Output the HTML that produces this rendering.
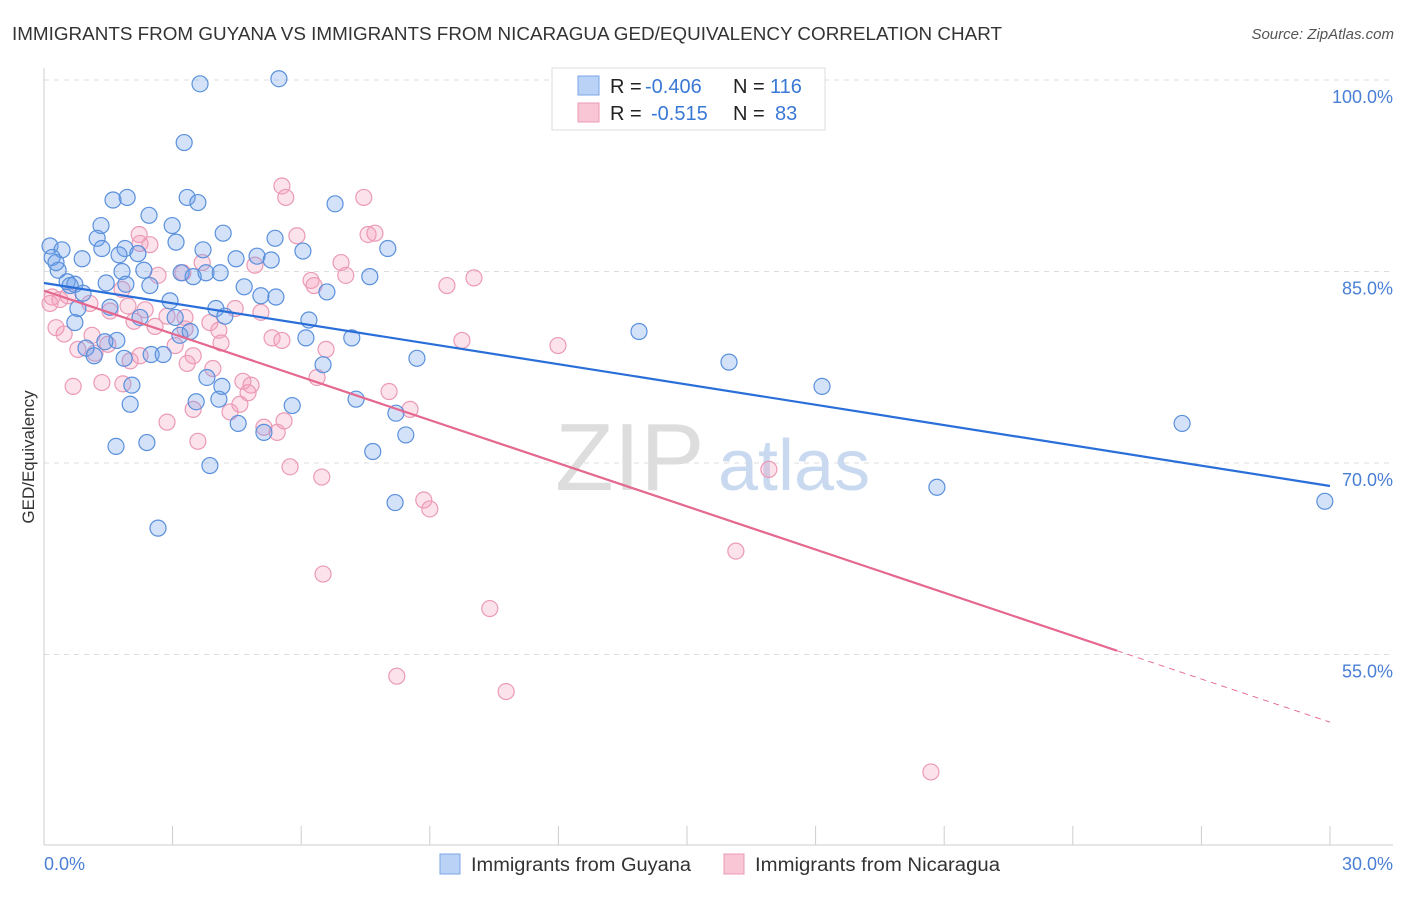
<!DOCTYPE html>
<html><head><meta charset="utf-8"><style>
body{margin:0;background:#fff;font-family:"Liberation Sans",sans-serif;}
svg text{font-family:"Liberation Sans",sans-serif;}
</style></head><body>
<svg id="chart" width="1406" height="892" viewBox="0 0 1406 892">
<text x="12" y="40" font-size="18" fill="#333" textLength="990" lengthAdjust="spacingAndGlyphs">IMMIGRANTS FROM GUYANA VS IMMIGRANTS FROM NICARAGUA GED/EQUIVALENCY CORRELATION CHART</text>
<text x="1394" y="39" font-size="15" fill="#555" font-style="italic" text-anchor="end">Source: ZipAtlas.com</text>
<g id="grid"></g>
<g><text x="555" y="490" font-size="96" font-family="Liberation Serif" fill="#ddd">ZIP</text><text x="718" y="490" font-size="72" fill="#c9daf0">atlas</text></g>
<line x1="44" y1="68" x2="44" y2="845" stroke="#ccc"/>
<line x1="44" y1="845" x2="1393" y2="845" stroke="#ccc"/>
<g id="xticks"></g>
<g id="ylabels"></g>
<text x="44" y="870" font-size="18" fill="#4a7fd6">0.0%</text>
<text x="1393" y="870" font-size="18" fill="#4a7fd6" text-anchor="end">30.0%</text>
<text transform="translate(34,457) rotate(-90)" font-size="17" fill="#333" text-anchor="middle">GED/Equivalency</text>
<g id="pts-pink"></g>
<g id="pts-blue"></g>
<g id="trends"></g>
<g>
<rect x="552" y="68" width="273" height="62" fill="#fff" stroke="#ddd"/>
<rect x="578" y="76" width="21" height="19" fill="#b9d2f5" stroke="#7aa6e6"/>
<rect x="578" y="103" width="21" height="19" fill="#f9c6d5" stroke="#eb9ab5"/>
<text x="610" y="93" font-size="20" fill="#222">R = <tspan fill="#3a78d6" x="645">-0.406</tspan></text>
<text x="733" y="93" font-size="20" fill="#222">N = <tspan fill="#3a78d6" x="770">116</tspan></text>
<text x="610" y="120" font-size="20" fill="#222">R = <tspan fill="#3a78d6" x="651">-0.515</tspan></text>
<text x="733" y="120" font-size="20" fill="#222">N = <tspan fill="#3a78d6" x="775">83</tspan></text>
</g>
<g>
<rect x="440" y="854" width="20" height="20" fill="#b9d2f5" stroke="#7aa6e6"/>
<text x="471" y="871" font-size="19" fill="#333" textLength="220" lengthAdjust="spacingAndGlyphs">Immigrants from Guyana</text>
<rect x="724" y="854" width="20" height="20" fill="#f9c6d5" stroke="#eb9ab5"/>
<text x="755" y="871" font-size="19" fill="#333" textLength="245" lengthAdjust="spacingAndGlyphs">Immigrants from Nicaragua</text>
</g>
</svg>
<script>
const yTicks=[100,85,70,55];
const yTickLabels=["100.0%","85.0%","70.0%","55.0%"];
const xTickVals=[0,3,6,9,12,15,18,21,24,27,30];
const blueX=[3.64,5.48,3.27,1.61,1.94,3.34,3.59,2.45,6.79,1.33,2.99,1.24,1.89,3.08,4.18,5.39,8.02,0.14,0.42,0.19,1.35,1.75,2.19,3.71,4.48,4.97,5.30,6.04,0.89,0.33,1.82,2.33,3.20,3.48,3.78,4.11,7.60,0.54,0.72,1.45,1.91,2.47,4.67,5.06,5.41,6.60,2.94,4.01,4.22,0.79,1.54,0.72,2.24,3.06,6.18,3.17,3.41,6.11,7.18,1.70,1.42,0.98,1.17,1.87,2.50,2.78,8.70,6.51,2.05,3.80,4.15,3.55,4.08,2.01,5.79,7.28,8.21,4.53,5.13,8.44,1.68,2.40,3.87,7.67,8.19,2.66,13.88,15.98,18.15,26.55,20.83,29.88,0.28,0.61,0.91];
const blueY=[99.7,100.1,95.1,90.6,90.8,90.8,90.4,89.4,90.3,88.6,88.6,87.6,86.8,87.3,88.0,87.6,86.8,87.0,86.7,86.1,86.8,86.3,86.4,86.7,86.0,86.2,85.9,86.6,86.0,85.1,85.0,85.1,84.9,84.6,84.9,84.9,84.6,84.2,84.0,84.1,84.0,83.9,83.8,83.1,83.0,83.4,82.7,82.1,81.5,82.1,82.2,81.0,81.4,81.4,81.2,80.0,80.3,79.8,79.8,79.6,79.5,79.0,78.4,78.2,78.5,78.5,78.2,77.7,76.1,76.7,76.0,74.8,75.0,74.6,74.5,75.0,73.9,73.1,72.4,72.2,71.3,71.6,69.8,70.9,66.9,64.9,80.3,77.9,76.0,73.1,68.1,67.0,85.7,83.9,83.3];
const pinkX=[5.55,5.64,7.46,2.24,2.47,2.22,5.90,7.56,7.72,3.69,4.92,6.93,2.66,3.24,6.23,6.30,7.04,9.40,10.03,0.19,0.37,0.56,1.07,1.54,1.96,2.36,2.87,3.29,3.87,4.46,5.06,0.28,0.47,1.12,2.10,2.59,3.29,4.08,5.32,0.79,1.19,1.49,3.06,3.48,4.13,6.58,9.75,11.99,3.34,3.94,0.68,1.35,1.84,2.01,4.64,4.83,6.37,8.05,3.48,4.34,4.57,8.54,2.87,3.59,5.13,5.44,5.60,5.74,6.48,16.91,8.86,9.00,16.14,6.51,10.40,8.23,10.78,20.69,0.14,1.82,5.55,4.76,2.24];
const pinkY=[91.7,90.8,90.8,87.2,87.1,87.9,87.8,87.9,88.0,85.7,85.5,85.7,84.7,84.9,84.3,83.9,84.7,83.9,84.5,83.0,82.8,83.1,82.5,81.9,82.3,82.0,81.5,81.4,81.0,82.1,81.8,80.6,80.1,80.0,81.1,80.7,80.5,80.4,79.8,78.9,78.6,79.3,79.2,78.4,79.4,78.9,79.6,79.2,77.8,77.4,76.0,76.3,76.2,78.0,76.4,76.1,76.7,75.6,74.2,74.0,74.6,74.2,73.2,71.7,72.8,72.4,73.3,69.7,68.9,69.5,67.1,66.4,63.1,61.3,58.6,53.3,52.1,45.8,82.5,83.6,79.6,75.5,78.4];
const blueTrend=[[0,84.1],[30,68.2]];
const pinkTrend=[[0,83.5],[25.03,55.3]];
const pinkTrendExt=[[25.03,55.3],[30,49.7]];

const NS="http://www.w3.org/2000/svg";
function sx(v){return 44+v*(1286/30);}
function sy(v){return 80+(100-v)*(191.5/15);}
function mk(tag,attrs,parent){const e=document.createElementNS(NS,tag);for(const k in attrs)e.setAttribute(k,attrs[k]);parent.appendChild(e);return e;}
const grid=document.getElementById('grid'),yl=document.getElementById('ylabels'),xt=document.getElementById('xticks');
yTicks.forEach((t,i)=>{
 const l=mk('line',{x1:44,x2:1393,y1:sy(t),y2:sy(t),stroke:'#ddd','stroke-dasharray':'5,5'},grid);
 
 
 const tx=mk('text',{x:1393,y:sy(t)+23,'font-size':18,fill:'#4a7fd6','text-anchor':'end'},yl);
 tx.textContent=yTickLabels[i];
 
 
});
xTickVals.forEach(v=>{
 const l=mk('line',{x1:sx(v),x2:sx(v),y1:826,y2:845,stroke:'#ccc'},xt);
 
 
});
function pts(xs,ys,g,fill,stroke,name){
 xs.forEach((x,i)=>{
  const c=mk('circle',{cx:sx(x),cy:sy(ys[i]),r:8,fill:fill,stroke:stroke,'stroke-width':1.2},g);
  
  
 });
}
pts(pinkX,pinkY,document.getElementById('pts-pink'),'rgba(244,160,190,0.3)','#eb9ab5','nicaragua-point');
pts(blueX,blueY,document.getElementById('pts-blue'),'rgba(110,160,235,0.3)','#5a90dc','guyana-point');
const tr=document.getElementById('trends');
function line(p,stroke,dash,name){
 const l=mk('line',{x1:sx(p[0][0]),y1:sy(p[0][1]),x2:sx(p[1][0]),y2:sy(p[1][1]),stroke:stroke,'stroke-width':dash?1:2.2},tr);
 if(dash)l.setAttribute('stroke-dasharray',dash);
 
 
}
line(blueTrend,'#2a6fd9',null,'guyana-trend-line');
line(pinkTrend,'#e5688f',null,'nicaragua-trend-line');
line(pinkTrendExt,'#e5688f','6,5','nicaragua-trend-extension');
</script>
</body></html>
